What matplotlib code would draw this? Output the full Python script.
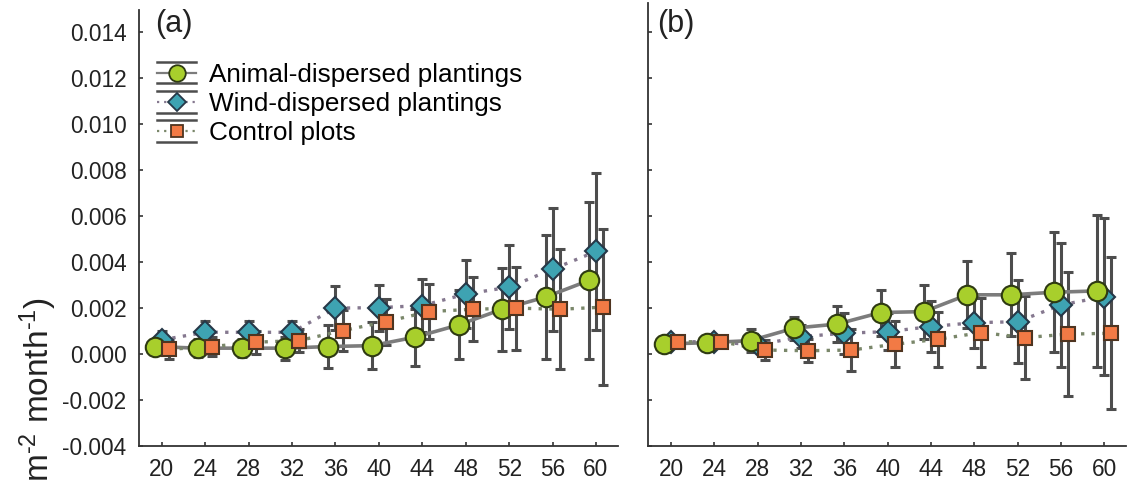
import numpy as np
import matplotlib
matplotlib.use("Agg")
import matplotlib.pyplot as plt
from matplotlib.lines import Line2D
from matplotlib.legend_handler import HandlerBase

plt.rcParams['font.family'] = ['Liberation Sans', 'DejaVu Sans']
plt.rcParams['mathtext.fontset'] = 'custom'
plt.rcParams['mathtext.rm'] = 'Liberation Sans'
plt.rcParams['mathtext.default'] = 'regular'

# months
months = np.array([20, 24, 28, 32, 36, 40, 44, 48, 52, 56, 60])
yticks = [-0.004, -0.002, 0.000, 0.002, 0.004, 0.006, 0.008, 0.010, 0.012, 0.014]
ytick_labels = ['-0.004', '-0.002', '0.000', '0.002', '0.004', '0.006',
                '0.008', '0.010', '0.012', '0.014']

# panel (a)
a_animal = [0.00032, 0.00025, 0.00025, 0.00025, 0.00032, 0.00036, 0.00073, 0.00126, 0.00194, 0.00247, 0.00319]
a_animal_err = [0.0003, 0.0004, 0.0004, 0.0005, 0.00094, 0.00103, 0.00124, 0.0015, 0.0018, 0.0027, 0.0034]
a_wind = [0.00061, 0.00094, 0.00094, 0.00094, 0.00199, 0.00201, 0.0021, 0.0026, 0.0029, 0.00368, 0.00445]
a_wind_err = [0.0004, 0.0005, 0.0005, 0.0005, 0.00097, 0.001, 0.00116, 0.00146, 0.00183, 0.00267, 0.0034]
a_ctrl = [0.0002, 0.00032, 0.00051, 0.00058, 0.00101, 0.0014, 0.00184, 0.00194, 0.00199, 0.00194, 0.00203]
a_ctrl_err = [0.0004, 0.0004, 0.0005, 0.0005, 0.0009, 0.001, 0.0012, 0.0014, 0.0018, 0.0026, 0.0034]

# panel (b)
b_animal = [0.00043, 0.00049, 0.00058, 0.00112, 0.0013, 0.0018, 0.00184, 0.00257, 0.00257, 0.00268, 0.00274]
b_animal_err = [0.0002, 0.0002, 0.0005, 0.0005, 0.0008, 0.001, 0.00117, 0.00145, 0.0018, 0.0026, 0.0033]
b_wind = [0.00053, 0.00053, 0.00039, 0.00075, 0.0009, 0.00097, 0.00119, 0.00136, 0.0014, 0.00213, 0.00249]
b_wind_err = [0.0002, 0.0002, 0.0003, 0.0005, 0.0009, 0.0008, 0.0011, 0.0011, 0.0018, 0.0027, 0.0034]
b_ctrl = [0.00053, 0.00053, 0.00017, 0.00014, 0.00017, 0.00042, 0.00064, 0.00093, 0.00071, 0.00086, 0.0009]
b_ctrl_err = [0.0002, 0.0002, 0.00043, 0.0005, 0.0009, 0.001, 0.0012, 0.0015, 0.0018, 0.0027, 0.0033]

labels = ['Animal-dispersed plantings', 'Wind-dispersed plantings', 'Control plots']

styles = {
    'animal': dict(marker='o', ms=14, mfc='#a8cf2c', mec='#2e3a12', color='#7c7c7c',
                   ls='-', lw=2.6, dx=-0.65),
    'wind': dict(marker='D', ms=11, mfc='#3ea3b2', mec='#263848', color='#85788f',
                 ls=(0, (1, 2.2)), lw=2.4, dx=0.0),
    'ctrl': dict(marker='s', ms=10.5, mfc='#f27a45', mec='#4e3420', color='#7a876a',
                 ls=(0, (1, 2.2)), lw=2.4, dx=0.65),
}
ERR_COLOR = '#4d4d4d'


class HandlerBars(HandlerBase):
    def create_artists(self, legend, orig_handle, xdescent, ydescent, width,
                       height, fontsize, trans):
        st = orig_handle
        x0, x1 = -xdescent, width - xdescent
        yc = height / 2 - ydescent
        h = height * 0.95
        top = Line2D([x0, x1], [yc + h / 2 + 1.5, yc + h / 2 + 1.5], color=ERR_COLOR, lw=1.8)
        bot = Line2D([x0, x1], [yc - h / 2 - 1.5, yc - h / 2 - 1.5], color=ERR_COLOR, lw=1.8)
        mid = Line2D([x0, x1], [yc, yc], color=st['color'], ls=st['ls'], lw=1.6)
        mk = Line2D([(x0 + x1) / 2], [yc], marker=st['marker'], ms=st['ms'] * 0.85,
                    mfc=st['mfc'], mec=st['mec'], mew=1.3, ls='none')
        arts = [top, bot, mid, mk]
        for a in arts:
            a.set_transform(trans)
        return arts


fig = plt.figure(figsize=(11.27, 4.84), dpi=100)
W, H = 1127.0, 484.0
ax_a = fig.add_axes([139 / W, 1 - 446 / H, 478.7 / W, 436 / H])
ax_b = fig.add_axes([648.3 / W, 1 - 446 / H, 477.7 / W, 443 / H])

panels = [
    (ax_a, [(a_wind, a_wind_err, 'wind'), (a_animal, a_animal_err, 'animal'),
            (a_ctrl, a_ctrl_err, 'ctrl')], 0.01494),
    (ax_b, [(b_wind, b_wind_err, 'wind'), (b_animal, b_animal_err, 'animal'),
            (b_ctrl, b_ctrl_err, 'ctrl')], 0.01525),
]

for ax, series, ytop in panels:
    for vals, err, key in series:
        st = styles[key]
        x = months + st['dx']
        ax.errorbar(x, vals, yerr=err, fmt='none', ecolor=ERR_COLOR, elinewidth=2.2,
                    capsize=3.5, capthick=2.2, zorder=2)
        ax.plot(x, vals, color=st['color'], ls=st['ls'], lw=st['lw'], zorder=3)
    for vals, err, key in series:
        st = styles[key]
        x = months + st['dx']
        ax.plot(x, vals, ls='none', marker=st['marker'], ms=st['ms'], mfc=st['mfc'],
                mec=st['mec'], mew=1.5, zorder=4)
    ax.set_xlim(17.9, 62.0)
    ax.set_ylim(-0.004, ytop)
    ax.set_xticks(months)
    ax.set_xticklabels([str(m) for m in months])
    ax.set_yticks(yticks)
    for s in ['top', 'right']:
        ax.spines[s].set_visible(False)
    for s in ['left', 'bottom']:
        ax.spines[s].set_color('#333333')
        ax.spines[s].set_linewidth(1.3)
    ax.tick_params(direction='in', length=3, width=1.2, color='#333333',
                   labelsize=16.3, labelcolor='#222222', pad=9)

ax_a.set_yticklabels(ytick_labels)
ax_b.tick_params(labelleft=False)

handles = [styles['animal'], styles['wind'], styles['ctrl']]
ax_a.legend(handles, labels, handler_map={dict: HandlerBars()}, loc='upper left',
            bbox_to_anchor=(0.038, 0.879), frameon=False, fontsize=18.8,
            handlelength=1.5, handletextpad=0.5, labelspacing=0.2,
            borderaxespad=0, borderpad=0)

fig.text(155 / W, 1 - 24 / H, '(a)', fontsize=22, ha='left', va='center', color='#222222')
fig.text(657 / W, 1 - 24 / H, '(b)', fontsize=22, ha='left', va='center', color='#222222')
fig.text(38 / W, 0.004, r'm$^{\text{-2}}$ month$^{\text{-1}}$)', rotation=90, fontsize=24,
         ha='center', va='bottom', color='#222222')

fig.savefig('out.png', dpi=100)
